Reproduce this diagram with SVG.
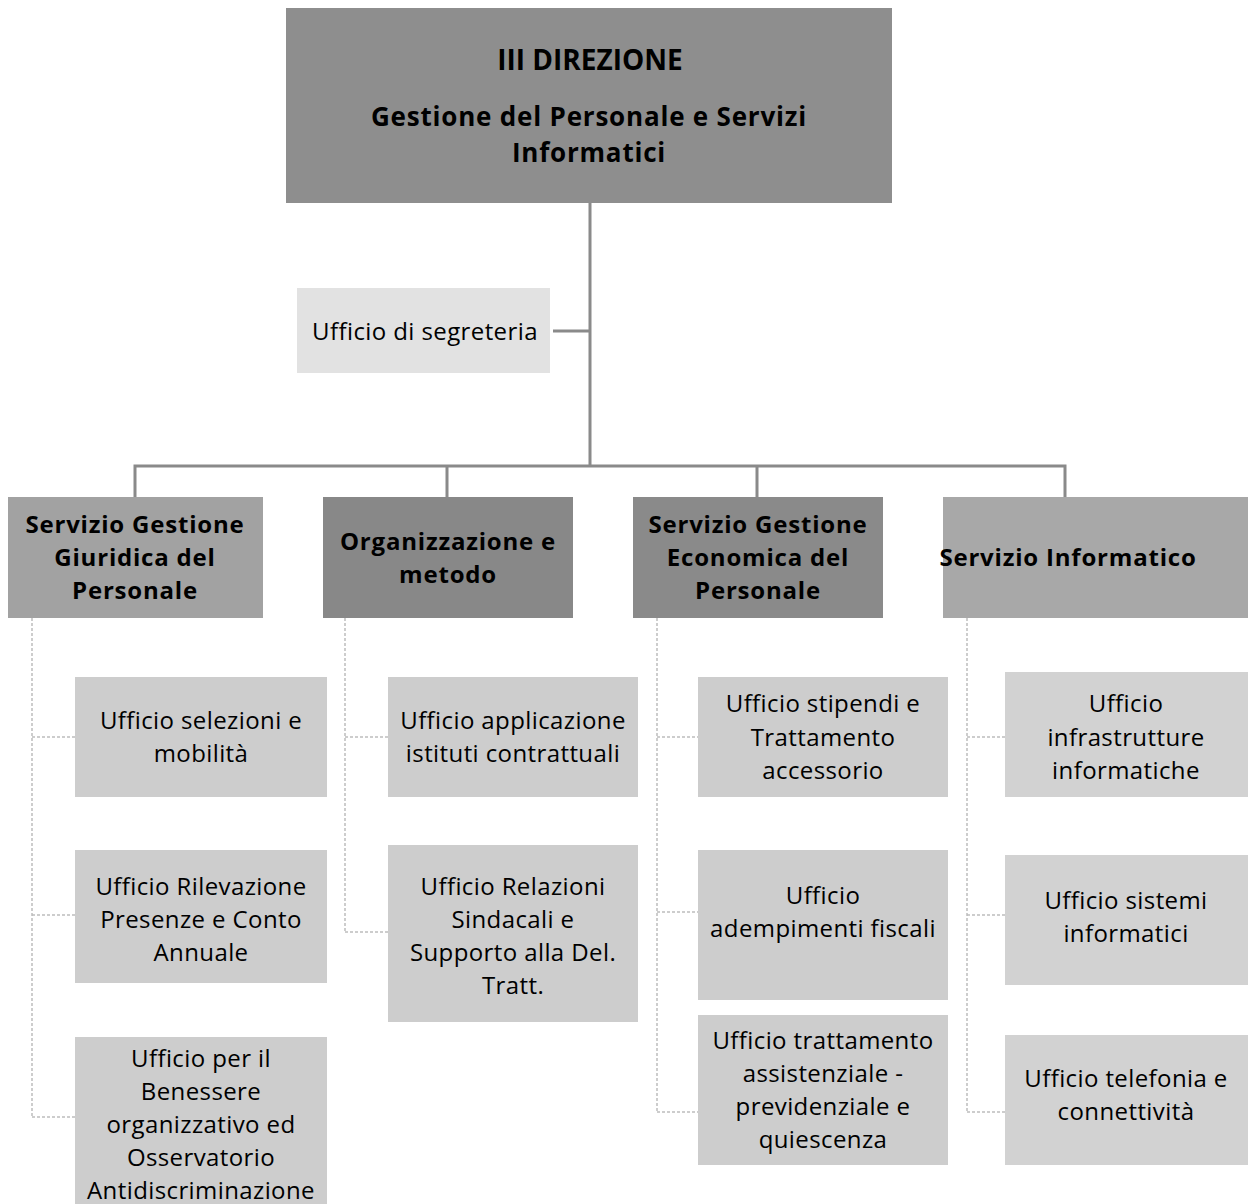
<svg xmlns="http://www.w3.org/2000/svg" width="1248" height="1204" viewBox="0 0 1248 1204">
<style>
.t{font-family:"Open Sans",Lato,"Liberation Sans",sans-serif;fill:#000;text-anchor:middle}
.b{font-weight:bold}
.top1{font-size:28px}
.top{font-size:26px;letter-spacing:0.8px}
.srv{font-size:24px;letter-spacing:0.8px}
.sub{font-size:24px;font-weight:500;letter-spacing:0.4px}
.main{stroke:#8a8a8a;stroke-width:3;fill:none}
.dot{stroke:#bdbdbd;stroke-width:1.5;fill:none;stroke-dasharray:3 2}
</style>
<rect width="1248" height="1204" fill="#fff"/>
<g id="connectors">
<path class="main" d="M590 203V466M553 331H590M135 497V466H1065V497M447 466V497M757 466V497"/>
<path class="dot" d="M32 618V1117M32 737H75M32 915H75M32 1117H75"/>
<path class="dot" d="M345 618V932M345 737H388M345 932H388"/>
<path class="dot" d="M657 618V1112M657 737H698M657 912H698M657 1112H698"/>
<path class="dot" d="M967 618V1112M967 737H1005M967 915H1005M967 1112H1005"/>
</g>
<g id="n-direzione">
<rect x="286" y="8" width="606" height="195" fill="#8e8e8e"/>
<text class="t b top1" x="590" y="70">III DIREZIONE</text>
<text class="t b top" x="589" y="126">Gestione del Personale e Servizi</text>
<text class="t b top" x="589" y="162">Informatici</text>
</g>
<g id="n-segreteria">
<rect x="297" y="288" width="253" height="85" fill="#e2e2e2"/>
<text class="t sub" x="425" y="340">Ufficio di segreteria</text>
</g>
<g id="n-giuridica">
<rect x="8" y="497" width="255" height="121" fill="#a2a2a2"/>
<text class="t b srv" x="135" y="533">Servizio Gestione</text>
<text class="t b srv" x="135" y="566">Giuridica del</text>
<text class="t b srv" x="135" y="599">Personale</text>
</g>
<g id="n-organizzazione">
<rect x="323" y="497" width="250" height="121" fill="#888"/>
<text class="t b srv" x="448" y="550">Organizzazione e</text>
<text class="t b srv" x="448" y="583">metodo</text>
</g>
<g id="n-economica">
<rect x="633" y="497" width="250" height="121" fill="#8a8a8a"/>
<text class="t b srv" x="758" y="533">Servizio Gestione</text>
<text class="t b srv" x="758" y="566">Economica del</text>
<text class="t b srv" x="758" y="599">Personale</text>
</g>
<g id="n-informatico">
<rect x="943" y="497" width="305" height="121" fill="#a8a8a8"/>
<text class="t b srv" x="1068" y="566">Servizio Informatico</text>
</g>
<g id="n-selezioni">
<rect x="75" y="677" width="252" height="120" fill="#cdcdcd"/>
<text class="t sub" x="201" y="729">Ufficio  selezioni e</text>
<text class="t sub" x="201" y="762">mobilità</text>
</g>
<g id="n-rilevazione">
<rect x="75" y="850" width="252" height="133" fill="#cdcdcd"/>
<text class="t sub" x="201" y="895">Ufficio Rilevazione</text>
<text class="t sub" x="201" y="928">Presenze e Conto</text>
<text class="t sub" x="201" y="961">Annuale</text>
</g>
<g id="n-benessere">
<rect x="75" y="1037" width="252" height="167" fill="#cdcdcd"/>
<text class="t sub" x="201" y="1067">Ufficio per il</text>
<text class="t sub" x="201" y="1100">Benessere</text>
<text class="t sub" x="201" y="1133">organizzativo ed</text>
<text class="t sub" x="201" y="1166">Osservatorio</text>
<text class="t sub" x="201" y="1199">Antidiscriminazione</text>
</g>
<g id="n-applicazione">
<rect x="388" y="677" width="250" height="120" fill="#cdcdcd"/>
<text class="t sub" x="513" y="729">Ufficio applicazione</text>
<text class="t sub" x="513" y="762">istituti contrattuali</text>
</g>
<g id="n-relazioni">
<rect x="388" y="845" width="250" height="177" fill="#cdcdcd"/>
<text class="t sub" x="513" y="895">Ufficio Relazioni</text>
<text class="t sub" x="513" y="928">Sindacali e</text>
<text class="t sub" x="513" y="961">Supporto alla Del.</text>
<text class="t sub" x="513" y="994">Tratt.</text>
</g>
<g id="n-stipendi">
<rect x="698" y="677" width="250" height="120" fill="#cdcdcd"/>
<text class="t sub" x="823" y="712">Ufficio stipendi e</text>
<text class="t sub" x="823" y="746">Trattamento</text>
<text class="t sub" x="823" y="779">accessorio</text>
</g>
<g id="n-fiscali">
<rect x="698" y="850" width="250" height="150" fill="#cdcdcd"/>
<text class="t sub" x="823" y="904">Ufficio</text>
<text class="t sub" x="823" y="937">adempimenti fiscali</text>
</g>
<g id="n-assistenziale">
<rect x="698" y="1015" width="250" height="150" fill="#cdcdcd"/>
<text class="t sub" x="823" y="1049">Ufficio trattamento</text>
<text class="t sub" x="823" y="1082">assistenziale -</text>
<text class="t sub" x="823" y="1115">previdenziale e</text>
<text class="t sub" x="823" y="1148">quiescenza</text>
</g>
<g id="n-infrastrutture">
<rect x="1005" y="672" width="243" height="125" fill="#d2d2d2"/>
<text class="t sub" x="1126" y="712">Ufficio</text>
<text class="t sub" x="1126" y="746">infrastrutture</text>
<text class="t sub" x="1126" y="779">informatiche</text>
</g>
<g id="n-sistemi">
<rect x="1005" y="855" width="243" height="130" fill="#d2d2d2"/>
<text class="t sub" x="1126" y="909">Ufficio sistemi</text>
<text class="t sub" x="1126" y="942">informatici</text>
</g>
<g id="n-telefonia">
<rect x="1005" y="1035" width="243" height="130" fill="#d2d2d2"/>
<text class="t sub" x="1126" y="1087">Ufficio telefonia e</text>
<text class="t sub" x="1126" y="1120">connettività</text>
</g>
</svg>
